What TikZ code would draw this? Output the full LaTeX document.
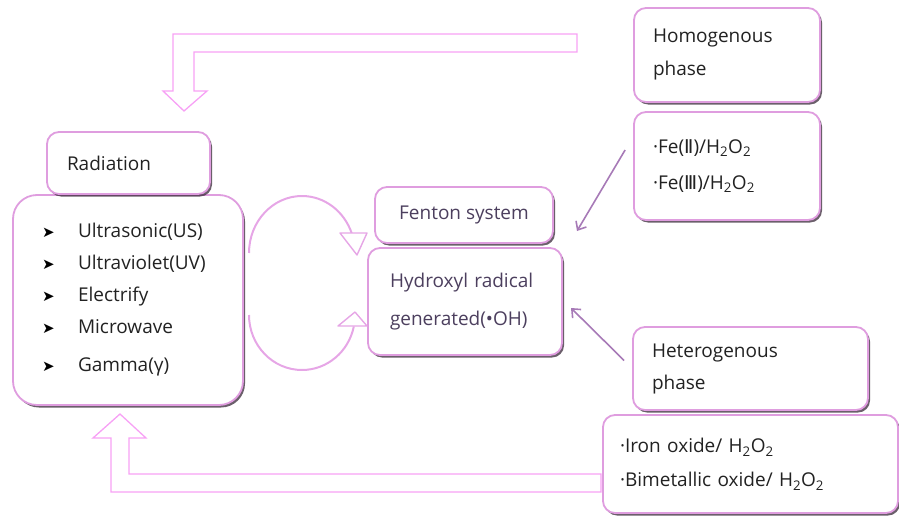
\documentclass[tikz,border=0pt]{standalone}
\usepackage{fontspec}
\setmainfont{Open Sans}
\newfontfamily\symfont{DejaVu Sans}
\usetikzlibrary{shadows,arrows.meta,calc}
\definecolor{boxpink}{HTML}{DF9DDF}
\definecolor{blockpink}{HTML}{F7A1F5}
\definecolor{arcpink}{HTML}{E6A6E6}
\definecolor{linkpurple}{HTML}{A77AB7}
\definecolor{shadowc}{HTML}{3A2A3A}
\definecolor{txtdark}{HTML}{222222}
\definecolor{txtpurple}{HTML}{4C3F5E}
\newcommand{\hhoo}{H\textsubscript{2}O\textsubscript{2}}
\newcommand{\bul}{\makebox[36pt][l]{\symfont\fontsize{15}{15}\selectfont\color{black}➤}}
\newcommand{\romtwo}{{\symfont Ⅱ}}
\newcommand{\romthree}{{\symfont Ⅲ}}
\begin{document}
\begin{tikzpicture}[x=1pt,y=-1pt,
  rbox/.style={draw=boxpink, line width=1.8pt, fill=white, rounded corners=12pt,
     drop shadow={shadow xshift=2pt, shadow yshift=-2.5pt, fill=shadowc, opacity=0.75},
     inner ysep=0pt, align=left, text=txtdark, font=\fontsize{19}{34}\selectfont},
  blockarrow/.style={draw=blockpink, line width=1.3pt, line join=miter},
  cyc/.style={draw=arcpink, line width=2pt},
  cychead/.style={draw=arcpink, line width=1.4pt, fill=white, line join=round},
  link/.style={draw=linkpurple, line width=1.6pt, -{Straight Barb[length=7pt,width=12pt]}},
]
\useasboundingbox (0,0) rectangle (899,519);

% radiation side
\node[rbox, rounded corners=24pt, minimum width=230pt, minimum height=210pt,
      text width=172pt, inner xsep=29pt, font=\fontsize{19}{32}\selectfont] (src) at (128,300)
  {\bul Ultrasonic(US)\\ \bul Ultraviolet(UV)\\ \bul Electrify\\ \bul Microwave\\[6pt] \bul Gamma(γ)};
\node[rbox, minimum width=163pt, minimum height=62pt, text width=123pt, inner xsep=20pt] (rad) at (128.5,163) {Radiation};

% Fenton side
\node[rbox, minimum width=178pt, minimum height=56pt, align=center, text=txtpurple, inner xsep=0pt] (fenton) at (464,215) {Fenton~system};
\node[rbox, minimum width=194pt, minimum height=107pt, text width=150pt, inner xsep=22pt,
      text=txtpurple, font=\fontsize{19}{38}\selectfont] (oh) at (465,301.5) {Hydroxyl~radical\\ generated(•OH)};

% phases
\node[rbox, minimum width=186pt, minimum height=94pt, text width=148pt, inner xsep=19pt,
      font=\fontsize{19}{33}\selectfont] (homo) at (727,55) {Homogenous\\ phase};
\node[rbox, minimum width=186pt, minimum height=108pt, text width=148pt, inner xsep=19pt,
      font=\fontsize{19}{36}\selectfont] (fe) at (727,166) {·Fe(\romtwo)/\hhoo\\ ·Fe(\romthree)/\hhoo};
\node[rbox, minimum width=235pt, minimum height=83pt, text width=197pt, inner xsep=19pt,
      font=\fontsize{19}{32}\selectfont] (hetero) at (750.5,368.5) {Heterogenous\\ phase};
\node[rbox, minimum width=295pt, minimum height=98pt, text width=261pt, inner xsep=17pt,
      font=\fontsize{19}{34}\selectfont] (iron) at (750.5,464) {·Iron~oxide/~\hhoo\\ ·Bimetallic~oxide/~\hhoo};

% block arrows
\draw[blockarrow] (577,34) -- (173,34) -- (173,91) -- (163,91) -- (184,111) -- (207,91) -- (194,91) -- (194,52) -- (577,52) -- cycle;
\draw[blockarrow] (601,492) -- (111,492) -- (111,438) -- (93,438) -- (120,414) -- (146,438) -- (129,438) -- (129,474) -- (601,474) -- cycle;

% cycle arrows
\coordinate (u0) at (249,253);
\coordinate (l0) at (249,315);
\draw[cyc] (u0) arc[start angle=180, end angle=340, x radius=53, y radius=57];
\draw[cychead] (340,233) -- (367,233) -- (357,255) -- cycle;
\draw[cyc] (l0) arc[start angle=180, end angle=12, x radius=53, y radius=55];
\draw[cychead] (338,326) -- (367,326) -- (355,312) -- cycle;

% links
\coordinate (t1) at (577,231);
\coordinate (t2) at (571,308);
\draw[link] ($(fe.west)+(-8,-16)$) -- (t1);
\draw[link] ($(hetero.west)+(-8,-8)$) -- (t2);
\end{tikzpicture}
\end{document}
